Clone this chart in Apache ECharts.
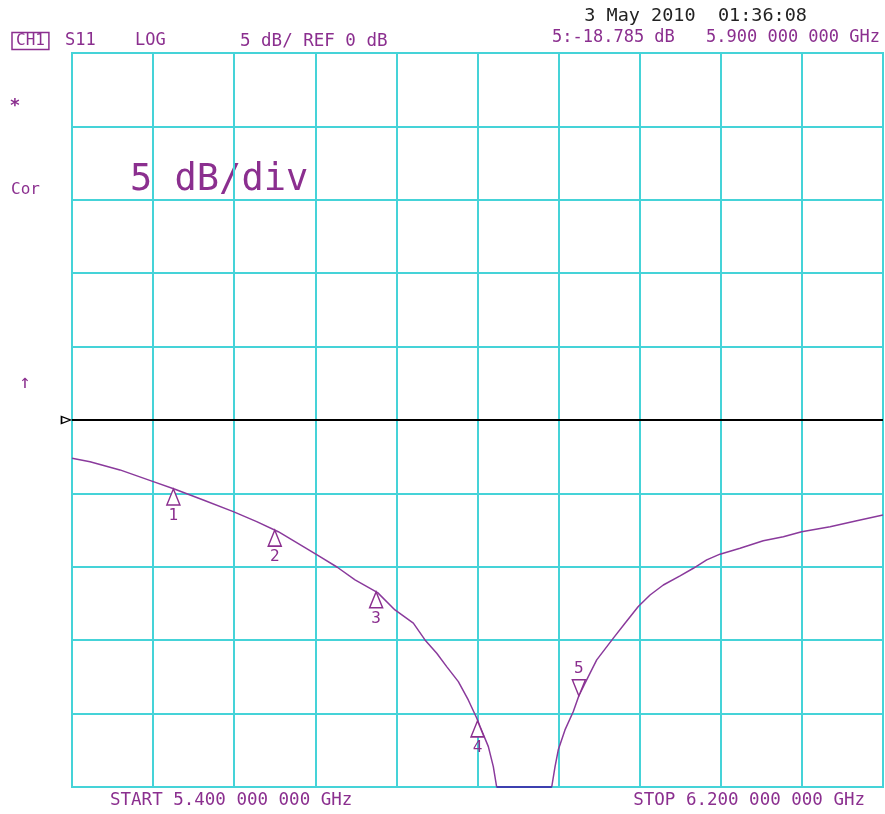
<!DOCTYPE html>
<html>
<head>
<meta charset="utf-8">
<script src="https://cdn.jsdelivr.net/npm/echarts@6/dist/echarts.min.js"></script>
<style>
  html, body { margin: 0; padding: 0; background: #fff; }
  #chart { width: 885px; height: 814px; }
</style>
</head>
<body>
<div id="chart"></div>
<script>
// S11 trace (GHz / dB)
var freqGHz = [5.4000, 5.4178, 5.4473, 5.4802, 5.5016, 5.5295, 5.5591, 5.5822, 5.6035, 5.6282,
  5.6446, 5.6617, 5.6792, 5.7015, 5.7186, 5.7367, 5.7482, 5.7598, 5.7696, 5.7811,
  5.7909, 5.7992, 5.8025, 5.8107, 5.8156, 5.8189, 5.8732, 5.8765, 5.8797, 5.8863,
  5.8945, 5.9000, 5.9093, 5.9176, 5.9340, 5.9455, 5.9586, 5.9702, 5.9833, 5.9998,
  6.0129, 6.0261, 6.0392, 6.0590, 6.0819, 6.1017, 6.1198, 6.1478, 6.1741, 6.2000];
var s11dB = [-2.61, -2.84, -3.40, -4.20, -4.72, -5.45, -6.24, -6.92, -7.61, -8.63,
  -9.31, -10.03, -10.89, -11.76, -12.94, -13.84, -14.98, -15.89, -16.80, -17.82,
  -19.07, -20.30, -20.88, -22.25, -23.61, -25.00, -25.00, -23.61, -22.47, -21.11,
  -19.86, -18.785, -17.48, -16.34, -14.86, -13.84, -12.71, -11.92, -11.24, -10.62,
  -10.10, -9.53, -9.14, -8.74, -8.22, -7.95, -7.61, -7.27, -6.86, -6.47];
// markers
var markerFreq = [5.5, 5.6, 5.7, 5.8, 5.9];
var markerDB = [-4.70, -7.50, -11.70, -20.50, -18.785];
var markerDown = [false, false, false, false, true];

var START = 5.4, STOP = 6.2;
var REF = 0, SCALE = 5, DIVS = 10;
var FLOOR = SCALE * -5;

var purple = '#8b2f8f';
var traceColor = '#8a3a9c';
var floorColor = '#3c40b0';
var gridColor = '#45d3d8';
var mono = '"DejaVu Sans Mono", monospace';

var chart = echarts.init(document.getElementById('chart'));

var traceData = [];
var floorPts = [];
for (var i = 0; i < freqGHz.length; i++) {
  traceData.push([freqGHz[i], s11dB[i]]);
  if (s11dB[i] <= FLOOR) floorPts.push([freqGHz[i], s11dB[i]]);
}
var markerData = [];
for (var j = 0; j < markerFreq.length; j++) {
  var down = markerDown[j];
  markerData.push({
    value: [markerFreq[j], markerDB[j]],
    symbolRotate: down ? 180 : 0,
    symbolOffset: [0, down ? '-50%' : '50%'],
    label: { position: down ? 'top' : 'bottom' }
  });
}

var option = {
  animation: false,
  backgroundColor: '#fff',
  grid: {
    left: 72, right: 2, top: 53, bottom: 27,
    show: true, borderColor: gridColor, borderWidth: 2
  },
  xAxis: [
    {
      type: 'value', min: START, max: STOP,
      axisLine: { show: false }, axisTick: { show: false },
      axisLabel: { show: false }, splitLine: { show: false }
    },
    {
      // graticule, 10 divisions
      type: 'value', min: 0, max: DIVS, interval: 1,
      axisLine: { show: false }, axisTick: { show: false },
      axisLabel: { show: false },
      splitLine: { show: true, lineStyle: { color: gridColor, width: 2 } }
    }
  ],
  yAxis: {
    type: 'value', min: REF - SCALE * 5, max: REF + SCALE * 5, interval: SCALE,
    axisLine: { show: false }, axisTick: { show: false },
    axisLabel: { show: false },
    splitLine: { show: true, lineStyle: { color: gridColor, width: 2 } }
  },
  series: [
    {
      type: 'line',
      xAxisIndex: 0,
      data: traceData,
      showSymbol: false,
      lineStyle: { color: traceColor, width: 1.5 },
      markLine: {
        silent: true,
        symbol: ['none', 'none'],
        label: { show: false },
        lineStyle: { color: '#000', width: 2, type: 'solid' },
        data: [
          { yAxis: REF },
          [
            { coord: floorPts[0], lineStyle: { color: floorColor, width: 2 } },
            { coord: floorPts[floorPts.length - 1] }
          ]
        ]
      },
      markPoint: {
        silent: true,
        symbol: 'triangle',
        symbolSize: [7, 9],
        symbolRotate: -90,
        symbolOffset: [-6, 0],
        label: { show: false },
        itemStyle: { color: '#fff', borderColor: '#000', borderWidth: 1.5 },
        data: [{ coord: [START, REF] }]
      },
      z: 3
    },
    {
      type: 'scatter',
      xAxisIndex: 0,
      data: markerData,
      symbol: 'triangle',
      symbolSize: [13, 16],
      itemStyle: { color: '#fff', opacity: 1, borderColor: purple, borderWidth: 1.5 },
      label: {
        show: true,
        formatter: function (p) { return String(p.dataIndex + 1); },
        color: purple,
        fontFamily: mono,
        fontSize: 16,
        distance: 2
      },
      z: 4
    }
  ],
  graphic: [
    { type: 'text', style: { text: '3 May 2010  01:36:08', x: 807, y: 16, textAlign: 'right', textVerticalAlign: 'middle', font: '18.5px ' + mono, fill: '#222' } },
    { type: 'text', style: { text: 'CH1', x: 12, y: 41, textVerticalAlign: 'middle', font: '16px ' + mono, fill: purple, borderColor: purple, borderWidth: 1.5, padding: [1, 4, 0, 4] } },
    { type: 'text', style: { text: 'S11', x: 65, y: 41, textVerticalAlign: 'middle', font: '17px ' + mono, fill: purple } },
    { type: 'text', style: { text: 'LOG', x: 135, y: 41, textVerticalAlign: 'middle', font: '17px ' + mono, fill: purple } },
    { type: 'text', style: { text: '5 dB/ REF 0 dB', x: 240, y: 41, textVerticalAlign: 'middle', font: '17.5px ' + mono, fill: purple } },
    { type: 'text', style: { text: '5:-18.785 dB', x: 552, y: 38, textVerticalAlign: 'middle', font: '17px ' + mono, fill: purple } },
    { type: 'text', style: { text: '5.900 000 000 GHz', x: 880, y: 38, textAlign: 'right', textVerticalAlign: 'middle', font: '17px ' + mono, fill: purple } },
    { type: 'text', style: { text: '*', x: 15, y: 106, textAlign: 'center', textVerticalAlign: 'middle', font: 'bold 18px ' + mono, fill: purple } },
    { type: 'text', style: { text: 'Cor', x: 11, y: 190, textVerticalAlign: 'middle', font: '16px ' + mono, fill: purple } },
    { type: 'text', style: { text: '↑', x: 25, y: 383, textAlign: 'center', textVerticalAlign: 'middle', font: '19px ' + mono, fill: purple } },
    { type: 'text', style: { text: '5 dB/div', x: 130, y: 180, textVerticalAlign: 'middle', font: '37px ' + mono, fill: purple } },
    { type: 'text', style: { text: 'START 5.400 000 000 GHz', x: 110, y: 800, textVerticalAlign: 'middle', font: '17.5px ' + mono, fill: purple } },
    { type: 'text', style: { text: 'STOP 6.200 000 000 GHz', x: 865, y: 800, textAlign: 'right', textVerticalAlign: 'middle', font: '17.5px ' + mono, fill: purple } }
  ]
};

chart.setOption(option);
window.addEventListener('resize', function () { chart.resize(); });
</script>
</body>
</html>
